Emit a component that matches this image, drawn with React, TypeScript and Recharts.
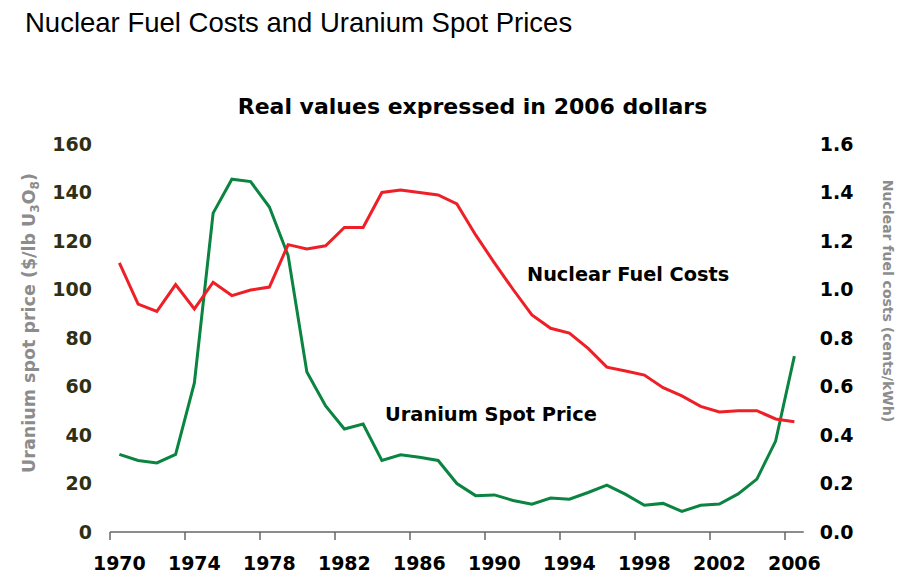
import React from 'react';
import { LineChart, Line, XAxis, YAxis } from 'recharts';

const years = [
  1970, 1971, 1972, 1973, 1974, 1975, 1976, 1977, 1978, 1979,
  1980, 1981, 1982, 1983, 1984, 1985, 1986, 1987, 1988, 1989,
  1990, 1991, 1992, 1993, 1994, 1995, 1996, 1997, 1998, 1999,
  2000, 2001, 2002, 2003, 2004, 2005, 2006,
];

// Uranium spot price, $/lb U3O8 (2006 dollars)
const uraniumSpot = [
  32, 29.5, 28.5, 32, 61.5, 131.5, 145.5, 144.5, 134, 114,
  66, 52, 42.5, 44.5, 29.5, 31.8, 30.8, 29.5, 20, 15,
  15.3, 13, 11.5, 14, 13.5, 16.3, 19.3, 15.5, 11, 11.8,
  8.5, 11, 11.5, 15.7, 21.8, 37.5, 72.5,
];

// Nuclear fuel costs, cents/kWh (2006 dollars)
const fuelCosts = [
  1.11, 0.94, 0.91, 1.02, 0.92, 1.03, 0.975, 0.998, 1.01, 1.185,
  1.167, 1.18, 1.256, 1.256, 1.4, 1.41, 1.4, 1.39, 1.353, 1.225,
  1.11, 1.0, 0.895, 0.84, 0.82, 0.757, 0.68, 0.664, 0.647, 0.595,
  0.561, 0.518, 0.495, 0.5, 0.5, 0.466, 0.455,
];

const xTicks = [1970, 1974, 1978, 1982, 1986, 1990, 1994, 1998, 2002, 2006];
const leftTicks = [0, 20, 40, 60, 80, 100, 120, 140, 160];
const rightTicks = [0, 0.2, 0.4, 0.6, 0.8, 1.0, 1.2, 1.4, 1.6];

const title = 'Nuclear Fuel Costs and Uranium Spot Prices';
const subtitle = 'Real values expressed in 2006 dollars';
const fuelLabel = 'Nuclear Fuel Costs';
const spotLabel = 'Uranium Spot Price';
const rightAxisLabel = 'Nuclear fuel costs (cents/kWh)';

const rows = years.map((y, i) => ({
  x: y + 0.5,
  uranium: uraniumSpot[i],
  fuel: fuelCosts[i],
}));

const TICK_FONT = "'DejaVu Sans', Verdana, sans-serif";
const HALF_CAT = 693.75 / 37 / 2;

const XTick = (props: any) => {
  const { x, y, payload } = props;
  return (
    <text
      x={x + HALF_CAT}
      y={y}
      dy="0.71em"
      textAnchor="middle"
      fontFamily={TICK_FONT}
      fontWeight="bold"
      fontSize={19}
      fill="#000"
    >
      {payload.value}
    </text>
  );
};

const LeftTick = (props: any) => {
  const { x, y, payload } = props;
  return (
    <text
      x={x}
      y={y}
      dy="0.36em"
      textAnchor="end"
      fontFamily={TICK_FONT}
      fontWeight="bold"
      fontSize={19}
      fill="#2f2f14"
    >
      {payload.value}
    </text>
  );
};

const RightTick = (props: any) => {
  const { x, y, payload } = props;
  return (
    <text
      x={x}
      y={y}
      dy="0.36em"
      textAnchor="start"
      fontFamily={TICK_FONT}
      fontWeight="bold"
      fontSize={19}
      fill="#000"
    >
      {Number(payload.value).toFixed(1)}
    </text>
  );
};

export default function App() {
  return (
    <div style={{ position: 'absolute', left: 0, top: 0, width: 908, height: 577, background: '#fff' }}>
      <LineChart
        width={908}
        height={577}
        data={rows}
        margin={{ top: 144, right: 0, bottom: 0, left: 0 }}
      >
        <XAxis
          dataKey="x"
          type="number"
          domain={[1970, 2007]}
          ticks={xTicks}
          interval={0}
          height={45}
          tickSize={8}
          tickMargin={17}
          axisLine={{ stroke: '#666', strokeWidth: 1.5 }}
          tickLine={{ stroke: '#666', strokeWidth: 1.5 }}
          tick={<XTick />}
          allowDataOverflow
        />
        <YAxis
          yAxisId="left"
          domain={[0, 160]}
          ticks={leftTicks}
          interval={0}
          width={110}
          tickSize={0}
          tickMargin={18}
          axisLine={false}
          tickLine={false}
          tick={<LeftTick />}
        />
        <YAxis
          yAxisId="right"
          orientation="right"
          domain={[0, 1.6]}
          ticks={rightTicks}
          interval={0}
          width={104.25}
          tickSize={0}
          tickMargin={16}
          axisLine={false}
          tickLine={false}
          tick={<RightTick />}
        />
        <Line
          yAxisId="left"
          type="linear"
          dataKey="uranium"
          stroke="#0a8440"
          strokeWidth={3}
          dot={false}
          isAnimationActive={false}
        />
        <Line
          yAxisId="right"
          type="linear"
          dataKey="fuel"
          stroke="#ee1f26"
          strokeWidth={3}
          dot={false}
          isAnimationActive={false}
        />
      </LineChart>
      <svg
        width={908}
        height={577}
        style={{ position: 'absolute', left: 0, top: 0, pointerEvents: 'none' }}
      >
        <text x={25} y={32} fontFamily="'Liberation Sans', Arial, sans-serif" fontSize={27.5} fill="#000">
          {title}
        </text>
        <text
          x={472.5}
          y={114}
          textAnchor="middle"
          fontFamily={TICK_FONT}
          fontWeight="bold"
          fontSize={22}
          fill="#000"
        >
          {subtitle}
        </text>
        <text x={527} y={281} fontFamily={TICK_FONT} fontWeight="bold" fontSize={19.3} fill="#000">
          {fuelLabel}
        </text>
        <text x={385} y={421} fontFamily={TICK_FONT} fontWeight="bold" fontSize={19.4} fill="#000">
          {spotLabel}
        </text>
        <text
          transform="translate(35, 323) rotate(-90)"
          textAnchor="middle"
          fontFamily={TICK_FONT}
          fontWeight="bold"
          fontSize={17.5}
          fill="#8c8c8c"
        >
          Uranium spot price ($/lb U
          <tspan fontSize={12} dy={4}>3</tspan>
          <tspan dy={-4}>O</tspan>
          <tspan fontSize={12} dy={4}>8</tspan>
          <tspan dy={-4}>)</tspan>
        </text>
        <text
          transform="translate(883, 301) rotate(90)"
          textAnchor="middle"
          fontFamily={TICK_FONT}
          fontWeight="bold"
          fontSize={14}
          fill="#8c8c8c"
        >
          {rightAxisLabel}
        </text>
      </svg>
    </div>
  );
}
